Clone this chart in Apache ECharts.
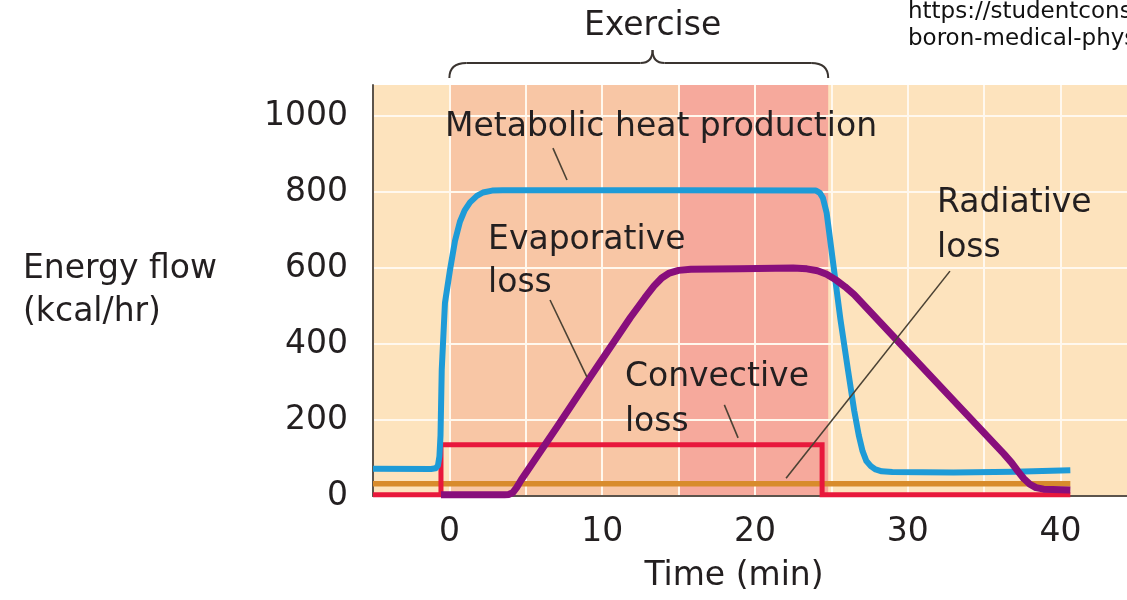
<!DOCTYPE html>
<html><head><meta charset="utf-8">
<script src="https://cdn.jsdelivr.net/npm/echarts@6/dist/echarts.min.js"></script>
<style>html,body{margin:0;padding:0;background:#fff}#c{width:1127px;height:600px}</style>
</head><body><div id="c"></div>
<script>
// ---------- data ----------
const timeTicks = [-5, 0, 5, 10, 15, 20, 25, 30, 35, 40];
const timeLabels = [0, 10, 20, 30, 40];
const energyTicks = [0, 200, 400, 600, 800, 1000];

const metabolic = [[-5,72],[-1.2,71],[-0.9,73],[-0.75,80],[-0.65,105],[-0.58,160],[-0.5,332],[-0.29,508],[0.04,595],[0.37,672],[0.69,722],[1.0,752],[1.35,773],[1.8,790],[2.2,799],[2.8,804],[3.5,805],[15,805],[24.0,804],[24.25,798],[24.45,785],[24.7,745],[25.1,620],[25.6,465],[26.1,330],[26.5,225],[26.8,160],[27.05,118],[27.3,92],[27.6,78],[27.9,70],[28.3,65],[29,63],[33,62],[37,64],[40.65,68]];
const evaporative = [[-0.55,3],[3.6,3],[3.9,4],[4.15,9],[4.4,22],[4.7,42],[7.1,185],[9.2,312],[11.85,470],[12.8,522],[13.4,553],[13.9,574],[14.4,587],[15,594],[15.8,597],[19,598],[22.5,600],[23.4,598],[24.1,593],[24.7,584],[25.3,569],[25.9,551],[26.5,530],[29.3,410],[33,252],[36.3,111],[36.8,88],[37.2,66],[37.6,46],[38.0,31],[38.4,22],[38.9,18],[40.65,16]];
const convective = [[-5,3],[-0.55,3],[-0.55,135],[24.4,135],[24.4,3],[40.65,3]];
const radiative = [[-5,32],[40.65,32]];

const exerciseStart = 0, intenseStart = 15, exerciseEnd = 24.8, exerciseLabelAt = 13.3;

// annotation anchors in data coordinates [time, energy]
const annotations = [
  { text: 'Metabolic heat production', at: [-0.29, 970] },
  { text: 'Evaporative', at: [2.53, 672] },
  { text: 'loss', at: [2.53, 559] },
  { text: 'Convective', at: [11.49, 311] },
  { text: 'loss', at: [11.49, 193] },
  { text: 'Radiative', at: [31.92, 769] },
  { text: 'loss', at: [31.92, 653] }
];
const leaders = [
  [[6.78, 916], [7.70, 832]],
  [[6.59, 516], [9.01, 313]],
  [[18.0, 240], [18.9, 153]],
  [[32.77, 592], [22.04, 47]]
];

// ---------- chart ----------
const FONT = '"DejaVu Sans", sans-serif';
const TXT = '#231f20';
const chart = echarts.init(document.getElementById('c'), null, { renderer: 'canvas' });

const option = {
  animation: false,
  textStyle: { fontFamily: FONT },
  grid: { left: 373, right: 0, top: 85, bottom: 104, show: true, backgroundColor: '#FDE3BD', borderWidth: 0, containLabel: false, outerBoundsMode: 'none' },
  xAxis: {
    type: 'value', min: -5, max: 44.36, z: 3,
    name: 'Time (min)', nameLocation: 'middle', nameGap: 64,
    nameTextStyle: { fontSize: 33, color: TXT, fontFamily: FONT, padding: [0, 32, 0, 0] },
    axisLine: { show: true, onZero: false, lineStyle: { color: '#5c544c', width: 2 } },
    axisTick: { show: false, customValues: timeTicks },
    axisLabel: { customValues: timeLabels, fontSize: 33, color: TXT, fontFamily: FONT, margin: 20, formatter: v => String(v) },
    splitLine: { show: true, lineStyle: { color: '#FFF8EE', width: 2 } }
  },
  yAxis: {
    type: 'value', min: 0, max: 1082, z: 3,
    name: 'Energy flow\n(kcal/hr)', nameLocation: 'middle', nameRotate: 0, nameGap: 350,
    nameTextStyle: { fontSize: 33, color: TXT, fontFamily: FONT, align: 'left', lineHeight: 43, padding: [9, 0, 0, 0] },
    axisLine: { show: true, onZero: false, lineStyle: { color: '#5c544c', width: 2 } },
    axisTick: { show: false, customValues: energyTicks },
    axisLabel: { customValues: energyTicks, fontSize: 33, color: TXT, fontFamily: FONT, margin: 25, formatter: v => String(v) },
    splitLine: { show: true, lineStyle: { color: '#FFF8EE', width: 2 } }
  },
  series: [
    {
      type: 'line', name: 'bands', data: [], z: 1, silent: true,
      markArea: {
        silent: true,
        data: [
          [{ xAxis: exerciseStart, itemStyle: { color: '#F8C6A5' } }, { xAxis: intenseStart }],
          [{ xAxis: intenseStart, itemStyle: { color: '#F6A99C' } }, { xAxis: exerciseEnd }]
        ]
      }
    },
    { type: 'line', name: 'Radiative loss', data: radiative, z: 5, clip: false, symbol: 'none', lineStyle: { color: '#D88B2C', width: 5.5 } },
    { type: 'line', name: 'Convective loss', data: convective, z: 6, clip: false, symbol: 'none', lineStyle: { color: '#E8183C', width: 5, join: 'miter' } },
    { type: 'line', name: 'Metabolic heat production', data: metabolic, z: 7, clip: false, symbol: 'none', lineStyle: { color: '#1E9BD7', width: 6, join: 'round' } },
    { type: 'line', name: 'Evaporative loss', data: evaporative, z: 8, clip: false, symbol: 'none', lineStyle: { color: '#880E7C', width: 7, join: 'round' } }
  ]
};
chart.setOption(option);

function px(p) { return chart.convertToPixel({ gridIndex: 0 }, p); }

const elements = [];
annotations.forEach(a => {
  const p = px(a.at);
  elements.push({ type: 'text', x: p[0], y: p[1], z: 20,
    style: { text: a.text, font: '33px ' + FONT, fill: TXT, textAlign: 'left', textVerticalAlign: 'middle' } });
});
leaders.forEach(l => {
  const a = px(l[0]), b = px(l[1]);
  elements.push({ type: 'line', z: 19, shape: { x1: a[0], y1: a[1], x2: b[0], y2: b[1] },
    style: { stroke: '#4b4234', lineWidth: 1.6 } });
});
// Exercise bracket
const x0 = px([exerciseStart, 0])[0], x1 = px([exerciseEnd, 0])[0], xm = px([exerciseLabelAt, 0])[0];
const bs = { stroke: '#3a3430', lineWidth: 2, fill: null };
elements.push({ type: 'bezierCurve', z: 20, shape: { x1: x0, y1: 78, cpx1: x0, cpy1: 63, x2: x0 + 17, y2: 63 }, style: bs });
elements.push({ type: 'line', z: 20, shape: { x1: x0 + 17, y1: 63, x2: xm - 12, y2: 63 }, style: bs });
elements.push({ type: 'bezierCurve', z: 20, shape: { x1: xm - 12, y1: 63, cpx1: xm, cpy1: 63, x2: xm, y2: 50 }, style: bs });
elements.push({ type: 'bezierCurve', z: 20, shape: { x1: xm, y1: 50, cpx1: xm, cpy1: 63, x2: xm + 12, y2: 63 }, style: bs });
elements.push({ type: 'line', z: 20, shape: { x1: xm + 12, y1: 63, x2: x1 - 17, y2: 63 }, style: bs });
elements.push({ type: 'bezierCurve', z: 20, shape: { x1: x1 - 17, y1: 63, cpx1: x1, cpy1: 63, x2: x1, y2: 78 }, style: bs });
elements.push({ type: 'text', x: xm, y: 26, z: 20,
  style: { text: 'Exercise', font: '33px ' + FONT, fill: TXT, textAlign: 'center', textVerticalAlign: 'middle' } });
// source URL
elements.push({ type: 'text', x: 908, y: 12, z: 20,
  style: { text: 'https://studentconsult', font: '23px ' + FONT, fill: '#111', textAlign: 'left', textVerticalAlign: 'middle' } });
elements.push({ type: 'text', x: 908, y: 39, z: 20,
  style: { text: 'boron-medical-physiology', font: '23px ' + FONT, fill: '#111', textAlign: 'left', textVerticalAlign: 'middle' } });

chart.setOption({ graphic: { elements } });
</script>
</body></html>
